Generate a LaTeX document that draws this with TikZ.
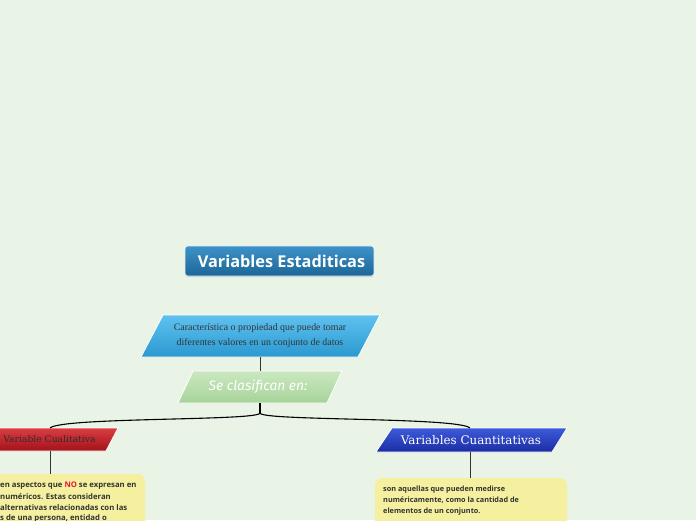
\documentclass[tikz,border=0pt]{standalone}
\usepackage{fontspec}
\setmainfont{Liberation Serif}
\newfontfamily\opensans{Open Sans}
\newfontfamily\opensansbold{Open Sans Bold}
\newfontfamily\slabfont{DejaVu Serif}
\newfontfamily\handfont{Fira Sans Italic}
\usetikzlibrary{shadows}
\definecolor{bgc}{HTML}{E9F3E6}
\definecolor{titletop}{HTML}{3E92C9}
\definecolor{titlebot}{HTML}{1B6696}
\definecolor{ptop}{HTML}{5FC2F0}
\definecolor{pbot}{HTML}{2A98CF}
\definecolor{gtop}{HTML}{CBE8C0}
\definecolor{gbot}{HTML}{A6D399}
\definecolor{rtop}{HTML}{DA3D42}
\definecolor{rbot}{HTML}{A3121B}
\definecolor{btop}{HTML}{3D5BDB}
\definecolor{bbot}{HTML}{1B2CA2}
\definecolor{yel}{HTML}{F4F0A0}
\definecolor{txtdark}{HTML}{333333}
\definecolor{nored}{HTML}{E8103A}
\tikzset{
  shapebox/.style={draw=white, line width=0.8pt},
  conn/.style={draw=black, line width=1.1pt},
  stem/.style={draw=black!80, line width=0.8pt},
  notebox/.style={fill=yel, rounded corners=7pt},
  notetext/.style={font=\opensansbold\fontsize{7.3}{10.8}\selectfont, text=txtdark, inner sep=0pt, anchor=west, align=left},
  notetextl/.style={notetext, font=\opensansbold\fontsize{7.75}{10.8}\selectfont},
}
\begin{document}
\begin{tikzpicture}[x=1pt,y=-1pt]
\fill[bgc] (0,0) rectangle (696,520);
\useasboundingbox (0,0) rectangle (696,520);
\clip (0,0) rectangle (696,520);

% title
\path[top color=titletop, bottom color=titlebot, draw=white!85!titletop, line width=0.6pt, rounded corners=3pt, drop shadow={shadow xshift=0pt, shadow yshift=-1.2pt, opacity=0.25}]
  (185,246) rectangle (374,276);
\node[font=\opensansbold\fontsize{16.3}{18}\selectfont, text=white] (title) at (281.5,261) {Variables Estaditicas};

% definition parallelogram
\path[shapebox, top color=ptop, bottom color=pbot] (163,315) -- (380,315) -- (358,357) -- (141,357) -- cycle;
\node[font=\fontsize{9.9}{15}\selectfont, text=txtdark, align=center] (def) at (260,336)
  {Característica o propiedad que puede tomar\\diferentes valores en un conjunto de datos};
\coordinate (defb) at (260,357);

% classify parallelogram
\path[shapebox, top color=gtop, bottom color=gbot] (193,371) -- (342,371) -- (327,403) -- (178,403) -- cycle;
\node[font=\handfont\fontsize{13.8}{15}\selectfont, text=white] (clas) at (258,387) {Se clasifican en:};
\coordinate (clast) at (260,371);
\coordinate (clasb) at (260,403);
\coordinate (fork) at (260,413);

% qualitative
\path[shapebox, top color=rtop, bottom color=rbot] (-30,428) -- (118,428) -- (106,451) -- (-40,451) -- cycle;
\node[font=\slabfont\fontsize{9.2}{10}\selectfont, text=txtdark!90!black] (cual) at (49.5,439.5) {Variable Cualitativa};
\coordinate (cualt) at (50,428);
\coordinate (cualb) at (50,451);

% quantitative
\path[shapebox, top color=btop, bottom color=bbot] (392,428) -- (567,428) -- (552,452) -- (376,452) -- cycle;
\node[font=\slabfont\fontsize{11.9}{13}\selectfont, text=white] (cuan) at (471,440) {Variables Cuantitativas};
\coordinate (cuant) at (470,428);
\coordinate (cuanb) at (470,452);

% notes
\path[notebox] (-20,474) rectangle (145,545);
\coordinate (notelt) at (50,474);
\node[notetextl] (nl1) at (0,486) {en aspectos que \textcolor{nored}{NO} se expresan en};
\node[notetextl] (nl2) at (0,497) {numéricos. Estas consideran};
\node[notetextl] (nl3) at (0,508) {alternativas relacionadas con las};
\node[notetextl] (nl4) at (0,518.5) {s de una persona, entidad o};

\path[notebox] (375,478) rectangle (567,545);
\coordinate (notert) at (470,478);
\node[notetext] (nr) at (383,500.5) {son aquellas que pueden medirse\\numéricamente, como la cantidad de\\elementos de un conjunto.};

% connectors
\draw[stem] (defb) -- (clast);
\draw[conn] (clasb) -- (fork);
\draw[conn] (fork) .. controls (260,421) and (62,417) .. (cualt);
\draw[conn] (fork) .. controls (260,421) and (458,417) .. (cuant);
\draw[stem] (cualb) -- (notelt);
\draw[stem] (cuanb) -- (notert);
\end{tikzpicture}
\end{document}
